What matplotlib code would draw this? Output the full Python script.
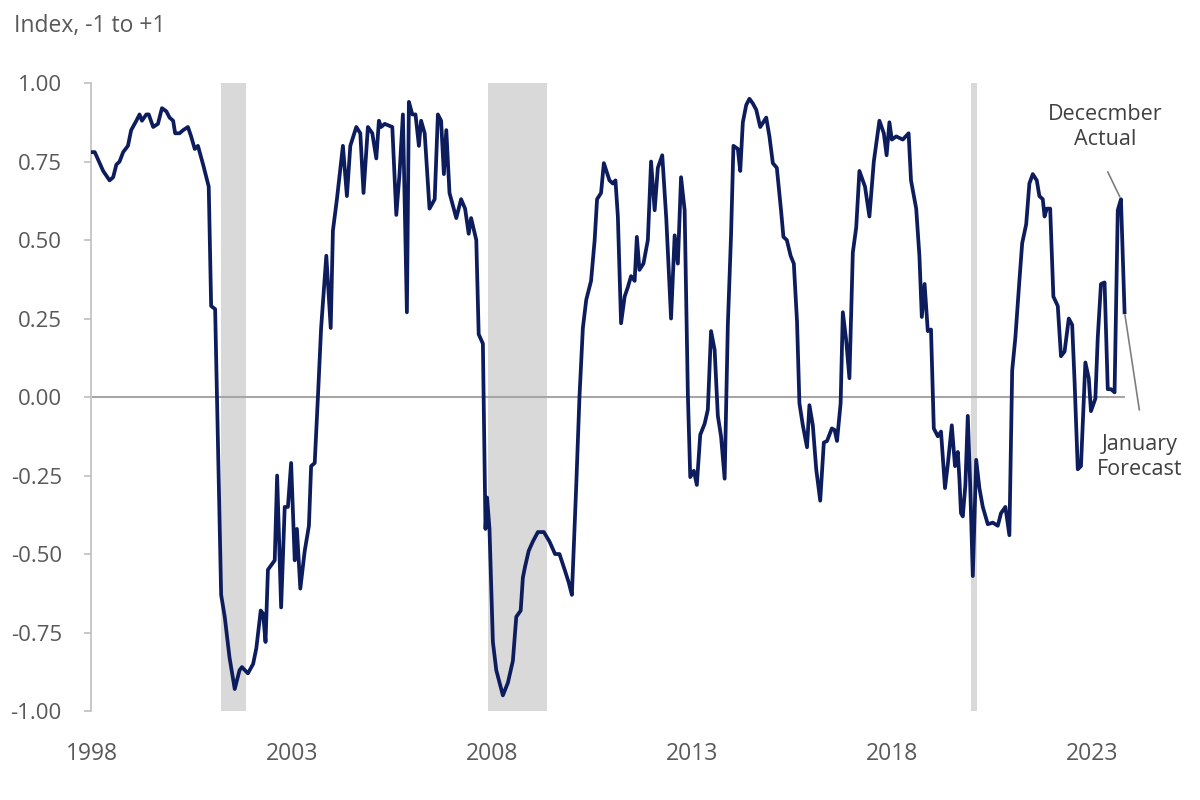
import matplotlib
matplotlib.use("Agg")
import matplotlib.pyplot as plt
import numpy as np

plt.rcParams['font.family'] = ['Open Sans', 'DejaVu Sans']
plt.rcParams['axes.unicode_minus'] = False

# index readings (decimal year, value)
dates = [
    1998.00, 1998.07, 1998.28, 1998.44, 1998.53, 1998.61, 1998.69, 1998.78, 1998.90, 1998.98,
    1999.11, 1999.19, 1999.25, 1999.36, 1999.42, 1999.53, 1999.65, 1999.75, 1999.86, 1999.94,
    2000.03, 2000.08, 2000.19, 2000.28, 2000.40, 2000.48, 2000.57, 2000.65, 2000.78, 2000.92,
    2000.98, 2001.08, 2001.23, 2001.32, 2001.44, 2001.57, 2001.69, 2001.75, 2001.90, 2002.03,
    2002.11, 2002.22, 2002.28, 2002.34, 2002.40, 2002.57, 2002.63, 2002.73, 2002.82, 2002.90,
    2002.98, 2003.07, 2003.125, 2003.21, 2003.32, 2003.425, 2003.48, 2003.57, 2003.65, 2003.73,
    2003.86, 2003.97, 2004.025, 2004.125, 2004.275, 2004.375, 2004.46, 2004.61, 2004.71, 2004.79,
    2004.90, 2005.01, 2005.11, 2005.175, 2005.23, 2005.32, 2005.51, 2005.61, 2005.69, 2005.775,
    2005.875, 2005.925, 2006.01, 2006.09, 2006.175, 2006.23, 2006.32, 2006.44, 2006.57, 2006.65,
    2006.73, 2006.80, 2006.86, 2006.94, 2007.11, 2007.23, 2007.33, 2007.42, 2007.48, 2007.61,
    2007.67, 2007.775, 2007.84, 2007.88, 2007.94, 2008.025, 2008.11, 2008.275, 2008.40, 2008.525,
    2008.61, 2008.72, 2008.775, 2008.83, 2008.92, 2009.025, 2009.15, 2009.30, 2009.44, 2009.58,
    2009.69, 2009.82, 2009.92, 2010.00, 2010.11, 2010.19, 2010.275, 2010.36, 2010.48, 2010.57,
    2010.63, 2010.73, 2010.80, 2010.94, 2011.025, 2011.09, 2011.15, 2011.23, 2011.32, 2011.40,
    2011.48, 2011.57, 2011.625, 2011.69, 2011.79, 2011.90, 2011.98, 2012.07, 2012.15, 2012.26,
    2012.36, 2012.48, 2012.57, 2012.65, 2012.73, 2012.82, 2012.90, 2012.96, 2013.05, 2013.125,
    2013.21, 2013.32, 2013.40, 2013.48, 2013.57, 2013.65, 2013.73, 2013.82, 2013.90, 2013.98,
    2014.04, 2014.15, 2014.21, 2014.275, 2014.36, 2014.44, 2014.525, 2014.61, 2014.71, 2014.86,
    2014.94, 2015.025, 2015.125, 2015.23, 2015.29, 2015.375, 2015.47, 2015.55, 2015.63, 2015.69,
    2015.775, 2015.88, 2015.94, 2016.025, 2016.11, 2016.21, 2016.30, 2016.38, 2016.50, 2016.57,
    2016.63, 2016.72, 2016.775, 2016.86, 2016.94, 2017.025, 2017.11, 2017.19, 2017.33, 2017.44,
    2017.55, 2017.69, 2017.80, 2017.87, 2017.94, 2018.00, 2018.11, 2018.275, 2018.42, 2018.48,
    2018.61, 2018.69, 2018.75, 2018.82, 2018.90, 2018.98, 2019.05, 2019.15, 2019.23, 2019.33,
    2019.40, 2019.50, 2019.58, 2019.65, 2019.69, 2019.73, 2019.775, 2019.84, 2019.90, 2019.96,
    2020.025, 2020.11, 2020.19, 2020.275, 2020.40, 2020.525, 2020.65, 2020.73, 2020.84, 2020.94,
    2021.01, 2021.09, 2021.19, 2021.26, 2021.36, 2021.44, 2021.525, 2021.625, 2021.69, 2021.775,
    2021.82, 2021.875, 2021.96, 2022.04, 2022.15, 2022.23, 2022.32, 2022.425, 2022.51, 2022.57,
    2022.65, 2022.73, 2022.84, 2022.925, 2022.98, 2023.09, 2023.15, 2023.23, 2023.32, 2023.40,
    2023.48, 2023.57, 2023.65, 2023.73, 2023.82,
]
index_values = [
    0.78, 0.78, 0.72, 0.69, 0.70, 0.74, 0.75, 0.78, 0.80, 0.85,
    0.88, 0.90, 0.88, 0.90, 0.90, 0.86, 0.87, 0.92, 0.91, 0.89,
    0.88, 0.84, 0.84, 0.85, 0.86, 0.83, 0.79, 0.80, 0.74, 0.67,
    0.29, 0.28, -0.63, -0.70, -0.83, -0.93, -0.87, -0.86, -0.88, -0.85,
    -0.80, -0.68, -0.69, -0.78, -0.55, -0.52, -0.25, -0.67, -0.35, -0.35,
    -0.21, -0.52, -0.42, -0.61, -0.49, -0.41, -0.22, -0.21, 0.00, 0.22,
    0.45, 0.22, 0.53, 0.63, 0.80, 0.64, 0.80, 0.86, 0.84, 0.65,
    0.86, 0.84, 0.76, 0.88, 0.86, 0.87, 0.86, 0.58, 0.71, 0.90,
    0.27, 0.94, 0.90, 0.90, 0.80, 0.88, 0.84, 0.60, 0.63, 0.90,
    0.88, 0.71, 0.85, 0.65, 0.57, 0.63, 0.60, 0.52, 0.57, 0.50,
    0.20, 0.17, -0.42, -0.32, -0.42, -0.78, -0.87, -0.95, -0.91, -0.84,
    -0.70, -0.68, -0.575, -0.54, -0.49, -0.46, -0.43, -0.43, -0.46, -0.50,
    -0.50, -0.55, -0.59, -0.63, -0.28, 0.00, 0.22, 0.31, 0.37, 0.50,
    0.63, 0.65, 0.745, 0.69, 0.68, 0.69, 0.575, 0.235, 0.32, 0.35,
    0.385, 0.37, 0.51, 0.405, 0.425, 0.50, 0.75, 0.595, 0.73, 0.77,
    0.57, 0.25, 0.515, 0.425, 0.70, 0.595, 0.01, -0.255, -0.235, -0.28,
    -0.12, -0.085, -0.04, 0.21, 0.15, -0.06, -0.125, -0.26, 0.23, 0.515,
    0.80, 0.79, 0.72, 0.875, 0.93, 0.95, 0.935, 0.915, 0.86, 0.89,
    0.83, 0.745, 0.73, 0.595, 0.51, 0.50, 0.45, 0.425, 0.24, -0.02,
    -0.09, -0.16, -0.026, -0.09, -0.23, -0.33, -0.145, -0.14, -0.10, -0.105,
    -0.14, -0.02, 0.27, 0.18, 0.06, 0.46, 0.54, 0.72, 0.67, 0.575,
    0.75, 0.88, 0.84, 0.77, 0.875, 0.82, 0.83, 0.82, 0.84, 0.69,
    0.60, 0.45, 0.255, 0.36, 0.21, 0.215, -0.10, -0.125, -0.11, -0.29,
    -0.215, -0.09, -0.22, -0.175, -0.26, -0.37, -0.38, -0.28, -0.06, -0.28,
    -0.57, -0.20, -0.29, -0.35, -0.405, -0.40, -0.41, -0.37, -0.35, -0.44,
    0.085, 0.19, 0.37, 0.49, 0.55, 0.68, 0.71, 0.69, 0.64, 0.63,
    0.575, 0.60, 0.60, 0.32, 0.29, 0.13, 0.145, 0.25, 0.23, 0.05,
    -0.23, -0.22, 0.11, 0.06, -0.045, -0.005, 0.19, 0.36, 0.365, 0.025,
    0.025, 0.015, 0.595, 0.63, 0.27,
]

recession_start = [2001.22, 2007.90, 2019.97]
recession_end = [2001.85, 2009.37, 2020.13]

year_ticks = [1998, 2003, 2008, 2013, 2018, 2023]
value_ticks = [-1.00, -0.75, -0.50, -0.25, 0.00, 0.25, 0.50, 0.75, 1.00]

navy = '#0d1c5c'
grey_text = '#595959'

fig = plt.figure(figsize=(12, 8), dpi=100)
ax = fig.add_axes([0.0758, 0.1112, 0.874, 0.785])

for s, e in zip(recession_start, recession_end):
    ax.axvspan(s, e, color='#d9d9d9', lw=0, zorder=0)

ax.hlines(0, dates[0], dates[-1], color='#a6a6a6', lw=1.5, zorder=1)
ax.plot(dates, index_values, color=navy, lw=2.7, solid_joinstyle='round', zorder=3)

ax.set_xlim(1997.975, 2024.2)
ax.set_ylim(-1, 1)
ax.set_xticks(year_ticks)
ax.set_xticklabels([str(y) for y in year_ticks])
ax.set_yticks(value_ticks)
ax.set_yticklabels(['{:.2f}'.format(v) for v in value_ticks])

for side in ['top', 'right', 'bottom']:
    ax.spines[side].set_visible(False)
ax.spines['left'].set_color('#bfbfbf')
ax.spines['left'].set_linewidth(1.2)
ax.tick_params(axis='y', direction='out', length=5, width=1.2, color='#bfbfbf',
               labelcolor=grey_text, labelsize=16, pad=16)
ax.tick_params(axis='x', length=0, labelcolor=grey_text, labelsize=16.5, pad=22)

fig.text(0.012, 0.968, 'Index, -1 to +1', color=grey_text, fontsize=16.5, va='center', ha='left')

# call-outs for the last two points
ax.text(2023.33, 0.86, 'Dececmber\nActual', color='#404040', fontsize=15.5,
        ha='center', va='center', linespacing=1.25)
ax.annotate('', xy=(dates[-2], index_values[-2]), xytext=(2023.37, 0.725),
            arrowprops=dict(arrowstyle='-', color='#7f7f7f', lw=1.2))
ax.text(2024.2, -0.19, 'January\nForecast', color='#404040', fontsize=15.5,
        ha='center', va='center', linespacing=1.25, clip_on=False)
ax.annotate('', xy=(dates[-1], index_values[-1]), xytext=(2024.2, -0.05),
            arrowprops=dict(arrowstyle='-', color='#7f7f7f', lw=1.2), annotation_clip=False)

fig.savefig('out.png', dpi=100, facecolor='white')
